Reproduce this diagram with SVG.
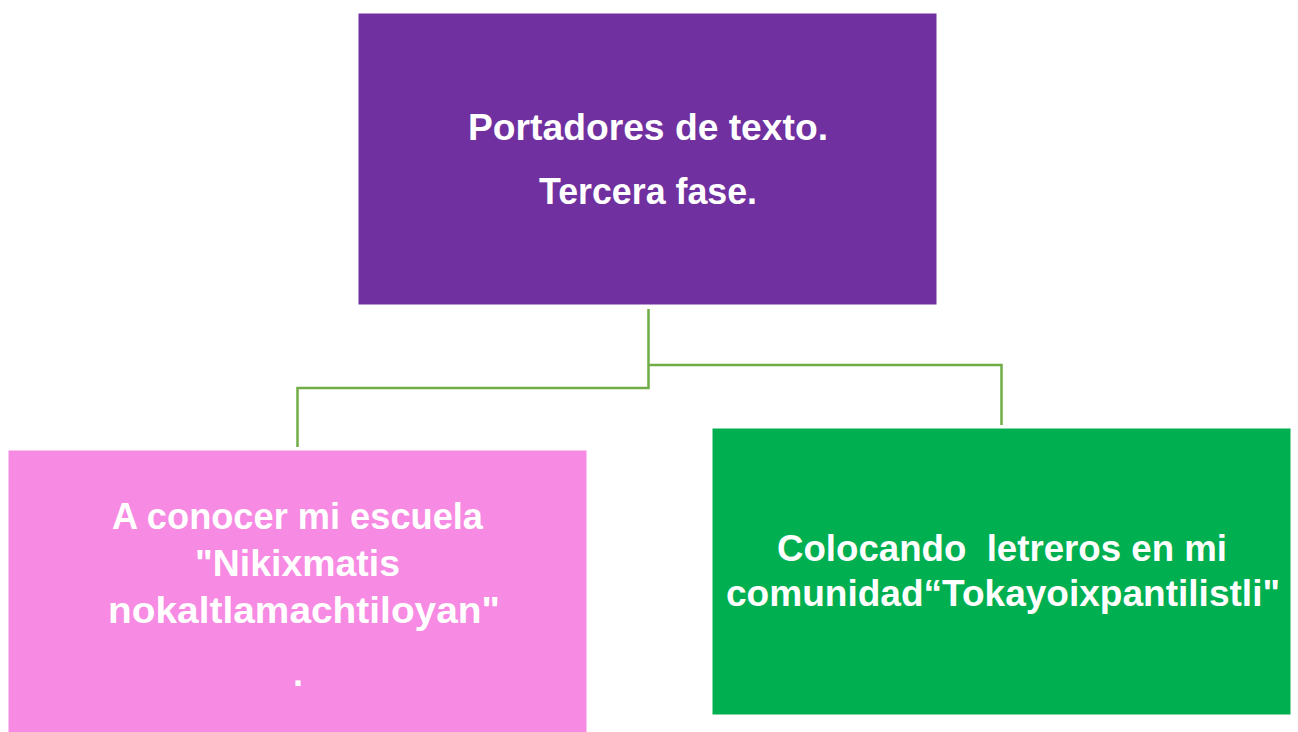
<svg xmlns="http://www.w3.org/2000/svg" width="1298" height="732" viewBox="0 0 1298 732">
<style>
.box{stroke:#ffffff;stroke-width:1}
.t{font-family:"Liberation Sans",Arial,sans-serif;font-weight:bold;font-size:36px;fill:#ffffff;text-anchor:middle}
.c{fill:none;stroke:#70AD47;stroke-width:2.5}
</style>
<rect width="1298" height="732" fill="#ffffff"/>
<g id="connectors">
<path class="c" d="M648.5,309 V388 H297.5 V447"/>
<path class="c" d="M648.5,365 H1001.5 V425"/>
</g>
<g id="top">
<rect class="box" x="358" y="13" width="579" height="292" fill="#7030A0"/>
<text class="t" x="648" y="140" textLength="360" lengthAdjust="spacingAndGlyphs">Portadores de texto.</text>
<text class="t" x="648" y="204" textLength="218" lengthAdjust="spacingAndGlyphs">Tercera fase.</text>
</g>
<g id="left">
<rect class="box" x="8" y="450" width="579" height="290" fill="#F78AE2"/>
<text class="t" x="297.5" y="529" textLength="371" lengthAdjust="spacingAndGlyphs">A conocer mi escuela</text>
<text class="t" x="297.5" y="576" textLength="205" lengthAdjust="spacingAndGlyphs">"Nikixmatis</text>
<text class="t" x="304" y="623" textLength="392" lengthAdjust="spacingAndGlyphs">nokaltlamachtiloyan"</text>
<text class="t" x="298" y="686">.</text>
</g>
<g id="right">
<rect class="box" x="712" y="428" width="579" height="287" fill="#00B050"/>
<text class="t" x="1002" y="561" textLength="450" lengthAdjust="spacingAndGlyphs" xml:space="preserve">Colocando  letreros en mi</text>
<text class="t" x="1003" y="606" textLength="554" lengthAdjust="spacingAndGlyphs">comunidad“Tokayoixpantilistli"</text>
</g>
</svg>
